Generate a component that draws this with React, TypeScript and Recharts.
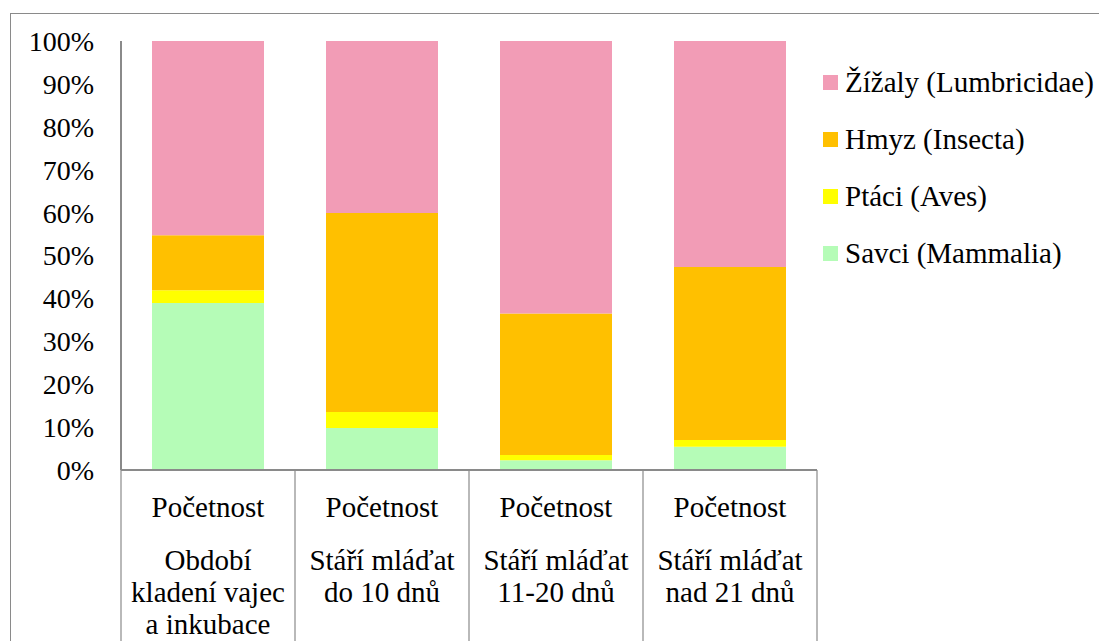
import { BarChart, Bar, XAxis, YAxis } from 'recharts'

const CATEGORIES = [
  ['Období', 'kladení vajec', 'a inkubace'],
  ['Stáří mláďat', 'do 10 dnů'],
  ['Stáří mláďat', '11-20 dnů'],
  ['Stáří mláďat', 'nad 21 dnů'],
]
const GROUP_LABEL = 'Početnost'

// shares in %, bottom of the stack first
const SAVCI = [38.9, 9.8, 2.3, 5.4]
const PTACI = [3.0, 3.7, 1.2, 1.6]
const HMYZ = [12.8, 46.4, 33.0, 40.3]
const ZIZALY = [45.3, 40.1, 63.5, 52.7]

const Y_TICKS = [0, 10, 20, 30, 40, 50, 60, 70, 80, 90, 100]

const SERIES = [
  { key: 'savci', name: 'Savci (Mammalia)', color: '#B5FCB7', values: SAVCI },
  { key: 'ptaci', name: 'Ptáci (Aves)', color: '#FFFF00', values: PTACI },
  { key: 'hmyz', name: 'Hmyz (Insecta)', color: '#FFC000', values: HMYZ },
  { key: 'zizaly', name: 'Žížaly (Lumbricidae)', color: '#F29CB6', values: ZIZALY },
]

const data = CATEGORIES.map((lines, i) => {
  const row: Record<string, any> = { id: String(i), lines }
  SERIES.forEach((s) => (row[s.key] = s.values[i]))
  return row
})

const FONT = "'Liberation Serif', 'Times New Roman', serif"
const AXIS = '#8a8a8a'
const W = 1099
const H = 641
const PLOT_LEFT = 121
const PLOT_RIGHT = 817
const BAND = (PLOT_RIGHT - PLOT_LEFT) / CATEGORIES.length

function CategoryTick(props: any) {
  const { x, y, index, visibleTicksCount } = props
  const lines: string[] = CATEGORIES[index] || []
  const last = index === visibleTicksCount - 1
  return (
    <g style={{ fontFamily: FONT }}>
      <line x1={x - BAND / 2} x2={x - BAND / 2} y1={y} y2={H} stroke={AXIS} strokeWidth={1.2} />
      {last && <line x1={x + BAND / 2} x2={x + BAND / 2} y1={y} y2={H} stroke={AXIS} strokeWidth={1.2} />}
      <text x={x} y={y + 37} textAnchor="middle" dominantBaseline="central" fontSize={29} fill="#000">
        {GROUP_LABEL}
      </text>
      {lines.map((t, i) => (
        <text key={i} x={x} y={y + 90 + i * 32} textAnchor="middle" dominantBaseline="central" fontSize={29} fill="#000">
          {t}
        </text>
      ))}
    </g>
  )
}

function LegendList() {
  const items = [...SERIES].reverse()
  return (
    <div style={{ position: 'absolute', left: 823, top: 54, fontFamily: FONT, fontSize: 29, color: '#000' }}>
      {items.map((s) => (
        <div key={s.key} style={{ display: 'flex', alignItems: 'center', height: 57, whiteSpace: 'nowrap' }}>
          <span style={{ width: 15, height: 15, background: s.color, marginRight: 7, flex: 'none' }} />
          <span>{s.name}</span>
        </div>
      ))}
    </div>
  )
}

export default function App() {
  return (
    <div style={{ position: 'absolute', left: 0, top: 0, width: W, height: H, overflow: 'hidden', background: '#fff', fontFamily: FONT }}>
      <div
        style={{
          position: 'absolute',
          left: 10,
          top: 13,
          width: W + 20,
          height: H + 20,
          borderTop: `1.5px solid ${AXIS}`,
          borderLeft: `1.5px solid ${AXIS}`,
        }}
      />
      <div style={{ position: 'absolute', left: 0, top: 0 }}>
        <BarChart width={W} height={H} data={data} margin={{ top: 41, right: W - PLOT_RIGHT, bottom: 0, left: 0 }}>
          <XAxis
            dataKey="id"
            height={H - 470}
            tickLine={false}
            tickSize={0}
            tickMargin={0}
            axisLine={{ stroke: AXIS, strokeWidth: 2 }}
            tick={<CategoryTick />}
            interval={0}
          />
          <YAxis
            width={PLOT_LEFT}
            domain={[0, 100]}
            ticks={Y_TICKS}
            tickFormatter={(v) => `${v}%`}
            tickLine={false}
            tickSize={0}
            tickMargin={27}
            axisLine={{ stroke: AXIS, strokeWidth: 2 }}
            tick={{ fontFamily: FONT, fontSize: 28, fill: '#000' }}
            interval={0}
          />
          {SERIES.map((s) => (
            <Bar key={s.key} dataKey={s.key} name={s.name} stackId="a" fill={s.color} barSize={112} isAnimationActive={false} />
          ))}
        </BarChart>
      </div>
      <LegendList />
    </div>
  )
}
